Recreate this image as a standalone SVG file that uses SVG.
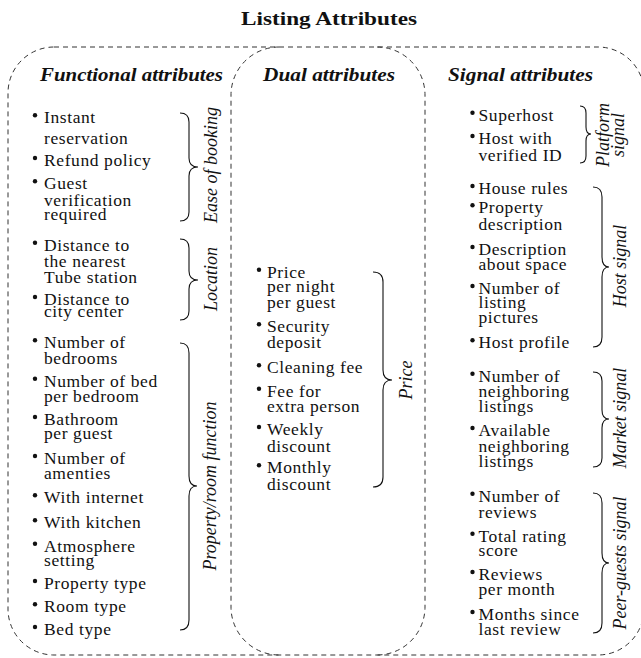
<svg xmlns="http://www.w3.org/2000/svg" width="641" height="658" viewBox="0 0 641 658">
<style>
.box{fill:none;stroke:#333;stroke-width:1;stroke-dasharray:5 4}
.t{font-family:"Liberation Serif",serif;font-size:17.5px;letter-spacing:0.6px;fill:#111}
.h{font-family:"Liberation Serif",serif;font-size:18px;font-weight:bold;font-style:italic;fill:#111}
.title{font-family:"Liberation Serif",serif;font-size:18.5px;font-weight:bold;fill:#111}
.lab{font-family:"Liberation Serif",serif;font-size:18px;font-style:italic;fill:#111;text-anchor:middle}
.br{fill:none;stroke:#111;stroke-width:1.1}
.b{fill:#111}
</style>
<rect width="641" height="658" fill="#fff"/>
<text class="title" x="241" y="25" textLength="176" lengthAdjust="spacingAndGlyphs">Listing Attributes</text>
<g id="frames">
<rect class="box" x="8" y="47" width="636" height="608" rx="46" ry="46"/>
<path class="box" d="M279 47 A48 48 0 0 0 231 95 L231 607 A48 48 0 0 0 279 655"/>
<path class="box" d="M377 47 A48 48 0 0 1 425 95 L425 607 A48 48 0 0 1 377 655"/>
</g>
<g id="functional">
<text class="h" x="40" y="81" textLength="183" lengthAdjust="spacingAndGlyphs">Functional attributes</text>
<g id="ease-of-booking">
<circle class="b" cx="35" cy="115.3" r="2.2"/>
<text class="t" x="44" y="123.3">Instant</text>
<text class="t" x="44" y="144.3">reservation</text>
<circle class="b" cx="35" cy="158" r="2.2"/>
<text class="t" x="44" y="166">Refund policy</text>
<circle class="b" cx="35" cy="181.3" r="2.2"/>
<text class="t" x="44" y="189.3">Guest</text>
<text class="t" x="44" y="206">verification</text>
<text class="t" x="44" y="220">required</text>
<path class="br" d="M180 113 Q189 113 189 122 L189 158 Q189 167 198 167 Q189 167 189 176 L189 212 Q189 221 180 221"/>
<text class="lab" transform="translate(217 165) rotate(-90)">Ease of booking</text>
</g>
<g id="location">
<circle class="b" cx="35" cy="242.7" r="2.2"/>
<text class="t" x="44" y="250.7">Distance to</text>
<text class="t" x="44" y="266.7">the nearest</text>
<text class="t" x="44" y="283.3">Tube station</text>
<circle class="b" cx="35" cy="297" r="2.2"/>
<text class="t" x="44" y="305">Distance to</text>
<text class="t" x="44" y="317.3">city center</text>
<path class="br" d="M180 239 Q189 239 189 248 L189 271 Q189 280 198 280 Q189 280 189 289 L189 311 Q189 320 180 320"/>
<text class="lab" transform="translate(217 279) rotate(-90)">Location</text>
</g>
<g id="property-room-function">
<circle class="b" cx="35" cy="340.3" r="2.2"/>
<text class="t" x="44" y="348.3">Number of</text>
<text class="t" x="44" y="364.3">bedrooms</text>
<circle class="b" cx="35" cy="378.7" r="2.2"/>
<text class="t" x="44" y="386.7">Number of bed</text>
<text class="t" x="44" y="401.7">per bedroom</text>
<circle class="b" cx="35" cy="417" r="2.2"/>
<text class="t" x="44" y="425">Bathroom</text>
<text class="t" x="44" y="439">per guest</text>
<circle class="b" cx="35" cy="456" r="2.2"/>
<text class="t" x="44" y="464">Number of</text>
<text class="t" x="44" y="479.3">amenties</text>
<circle class="b" cx="35" cy="495.3" r="2.2"/>
<text class="t" x="44" y="503.3">With internet</text>
<circle class="b" cx="35" cy="520.3" r="2.2"/>
<text class="t" x="44" y="528.3">With kitchen</text>
<circle class="b" cx="35" cy="543.7" r="2.2"/>
<text class="t" x="44" y="551.7">Atmosphere</text>
<text class="t" x="44" y="565.7">setting</text>
<circle class="b" cx="35" cy="581" r="2.2"/>
<text class="t" x="44" y="589">Property type</text>
<circle class="b" cx="35" cy="604.3" r="2.2"/>
<text class="t" x="44" y="612.3">Room type</text>
<circle class="b" cx="35" cy="627" r="2.2"/>
<text class="t" x="44" y="635">Bed type</text>
<path class="br" d="M180 343 Q189 343 189 353 L189 476 Q189 486 197 486 Q189 486 189 496 L189 620 Q189 630 180 630"/>
<text class="lab" transform="translate(216 486) rotate(-90)">Property/room function</text>
</g>
</g>
<g id="dual">
<text class="h" x="263" y="81" textLength="132" lengthAdjust="spacingAndGlyphs">Dual attributes</text>
<g id="price">
<circle class="b" cx="259" cy="269.7" r="2.2"/>
<text class="t" x="267" y="277.7">Price</text>
<text class="t" x="267" y="291.7">per night</text>
<text class="t" x="267" y="308.3">per guest</text>
<circle class="b" cx="259" cy="324.3" r="2.2"/>
<text class="t" x="267" y="332.3">Security</text>
<text class="t" x="267" y="348.3">deposit</text>
<circle class="b" cx="259" cy="365.3" r="2.2"/>
<text class="t" x="267" y="373.3">Cleaning fee</text>
<circle class="b" cx="259" cy="388.7" r="2.2"/>
<text class="t" x="267" y="396.7">Fee for</text>
<text class="t" x="267" y="411.7">extra person</text>
<circle class="b" cx="259" cy="427" r="2.2"/>
<text class="t" x="267" y="435">Weekly</text>
<text class="t" x="267" y="451.7">discount</text>
<circle class="b" cx="259" cy="465.3" r="2.2"/>
<text class="t" x="267" y="473.3">Monthly</text>
<text class="t" x="267" y="490">discount</text>
<path class="br" d="M373 272 Q383 272 383 282 L383 370 Q383 380 392 380 Q383 380 383 390 L383 477 Q383 487 373 487"/>
<text class="lab" transform="translate(412 380) rotate(-90)">Price</text>
</g>
</g>
<g id="signal">
<text class="h" x="448" y="81" textLength="145" lengthAdjust="spacingAndGlyphs">Signal attributes</text>
<g id="platform-signal">
<circle class="b" cx="472.5" cy="112.7" r="2.2"/>
<text class="t" x="478.5" y="120.7">Superhost</text>
<circle class="b" cx="472.5" cy="136" r="2.2"/>
<text class="t" x="478.5" y="144">Host with</text>
<text class="t" x="478.5" y="160.7">verified ID</text>
<path class="br" d="M580 106 Q586 106 586 113 L586 127 Q586 134 591 134 Q586 134 586 141 L586 156 Q586 163 580 163"/>
<text class="lab" transform="translate(609 135) rotate(-90)">Platform</text>
<text class="lab" transform="translate(624 135) rotate(-90)">signal</text>
</g>
<g id="host-signal">
<circle class="b" cx="472.5" cy="186" r="2.2"/>
<text class="t" x="478.5" y="194">House rules</text>
<circle class="b" cx="472.5" cy="205.3" r="2.2"/>
<text class="t" x="478.5" y="213.3">Property</text>
<text class="t" x="478.5" y="230">description</text>
<circle class="b" cx="472.5" cy="247" r="2.2"/>
<text class="t" x="478.5" y="255">Description</text>
<text class="t" x="478.5" y="270">about space</text>
<circle class="b" cx="472.5" cy="286" r="2.2"/>
<text class="t" x="478.5" y="294">Number of</text>
<text class="t" x="478.5" y="308.3">listing</text>
<text class="t" x="478.5" y="323.3">pictures</text>
<circle class="b" cx="472.5" cy="340.3" r="2.2"/>
<text class="t" x="478.5" y="348.3">Host profile</text>
<path class="br" d="M593 187 Q602 187 602 197 L602 257 Q602 267 609 267 Q602 267 602 277 L602 337 Q602 347 593 347"/>
<text class="lab" transform="translate(626 266) rotate(-90)">Host signal</text>
</g>
<g id="market-signal">
<circle class="b" cx="472.5" cy="373.7" r="2.2"/>
<text class="t" x="478.5" y="381.7">Number of</text>
<text class="t" x="478.5" y="396.7">neighboring</text>
<text class="t" x="478.5" y="411.7">listings</text>
<circle class="b" cx="472.5" cy="428" r="2.2"/>
<text class="t" x="478.5" y="436">Available</text>
<text class="t" x="478.5" y="451.7">neighboring</text>
<text class="t" x="478.5" y="466.7">listings</text>
<path class="br" d="M593 372 Q602 372 602 381 L602 410 Q602 419 609 419 Q602 419 602 428 L602 458 Q602 467 593 467"/>
<text class="lab" transform="translate(626 418) rotate(-90)">Market signal</text>
</g>
<g id="peer-guests-signal">
<circle class="b" cx="472.5" cy="493.7" r="2.2"/>
<text class="t" x="478.5" y="501.7">Number of</text>
<text class="t" x="478.5" y="518.3">reviews</text>
<circle class="b" cx="472.5" cy="533.7" r="2.2"/>
<text class="t" x="478.5" y="541.7">Total rating</text>
<text class="t" x="478.5" y="556">score</text>
<circle class="b" cx="472.5" cy="572" r="2.2"/>
<text class="t" x="478.5" y="580">Reviews</text>
<text class="t" x="478.5" y="595">per month</text>
<circle class="b" cx="472.5" cy="612" r="2.2"/>
<text class="t" x="478.5" y="620">Months since</text>
<text class="t" x="478.5" y="635">last review</text>
<path class="br" d="M593 493 Q602 493 602 503 L602 553 Q602 563 609 563 Q602 563 602 573 L602 623 Q602 633 593 633"/>
<text class="lab" transform="translate(626 563) rotate(-90)">Peer-guests signal</text>
</g>
</g>
</svg>
